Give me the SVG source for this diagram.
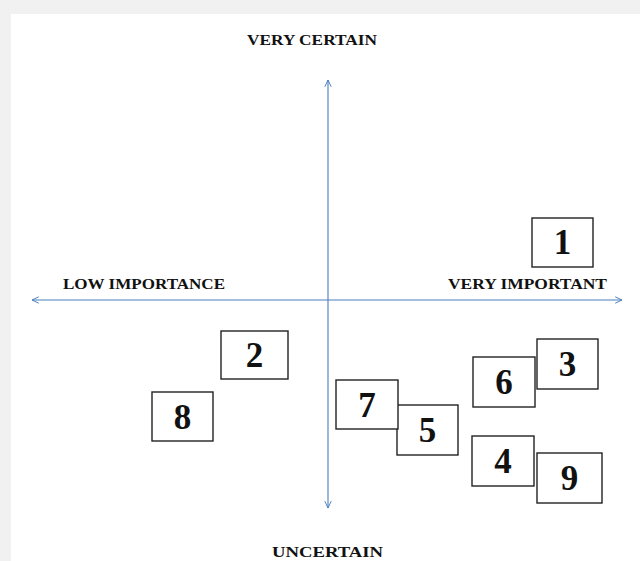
<svg xmlns="http://www.w3.org/2000/svg" width="640" height="561" viewBox="0 0 640 561">
<style>
.lbl{font-family:"Liberation Serif","Times New Roman",serif;font-weight:bold;font-size:15px;fill:#111}
.num{font-family:"Liberation Serif","Times New Roman",serif;font-weight:bold;font-size:35px;fill:#111;text-anchor:middle}
.box{fill:#fff;stroke:#222;stroke-width:1.4}
.axis{stroke:#4a7ebb;stroke-width:1.1;fill:none}
</style>
<defs>
<marker id="arr" viewBox="0 0 10 10" refX="9.5" refY="5" markerWidth="8" markerHeight="8" markerUnits="userSpaceOnUse" orient="auto-start-reverse">
<path d="M1,1 L9.5,5 L1,9" fill="none" stroke="#4a7ebb" stroke-width="1.2"/>
</marker>
</defs>
<rect x="0" y="0" width="640" height="561" fill="#f1f1f1"/>
<rect x="11" y="14" width="629" height="547" fill="#fff"/>
<g id="connectors">
<line class="axis" x1="32" y1="300" x2="622" y2="300" marker-start="url(#arr)" marker-end="url(#arr)"/>
<line class="axis" x1="328" y1="80" x2="328" y2="508" marker-start="url(#arr)" marker-end="url(#arr)"/>
</g>
<g id="labels">
<text class="lbl" x="247" y="45" textLength="130" lengthAdjust="spacingAndGlyphs">VERY CERTAIN</text>
<text class="lbl" x="63" y="289" textLength="162" lengthAdjust="spacingAndGlyphs">LOW IMPORTANCE</text>
<text class="lbl" x="448" y="289" textLength="159" lengthAdjust="spacingAndGlyphs">VERY IMPORTANT</text>
<text class="lbl" x="272" y="557" textLength="111" lengthAdjust="spacingAndGlyphs">UNCERTAIN</text>
</g>
<g id="n1"><rect class="box" x="532" y="218" width="61" height="49"/><text class="num" x="562.5" y="254">1</text></g>
<g id="n2"><rect class="box" x="221" y="331" width="67" height="48"/><text class="num" x="254.5" y="367">2</text></g>
<g id="n3"><rect class="box" x="537" y="339" width="61" height="50"/><text class="num" x="567.5" y="376">3</text></g>
<g id="n6"><rect class="box" x="473" y="357" width="62" height="50"/><text class="num" x="504" y="394">6</text></g>
<g id="n5"><rect class="box" x="397" y="405" width="61" height="50"/><text class="num" x="427.5" y="442">5</text></g>
<g id="n7"><rect class="box" x="336" y="380" width="62" height="49"/><text class="num" x="367" y="417">7</text></g>
<g id="n8"><rect class="box" x="152" y="392" width="61" height="49"/><text class="num" x="182.5" y="429">8</text></g>
<g id="n4"><rect class="box" x="472" y="436" width="62" height="50"/><text class="num" x="503" y="473">4</text></g>
<g id="n9"><rect class="box" x="537" y="453" width="65" height="50"/><text class="num" x="569.5" y="490">9</text></g>
</svg>
